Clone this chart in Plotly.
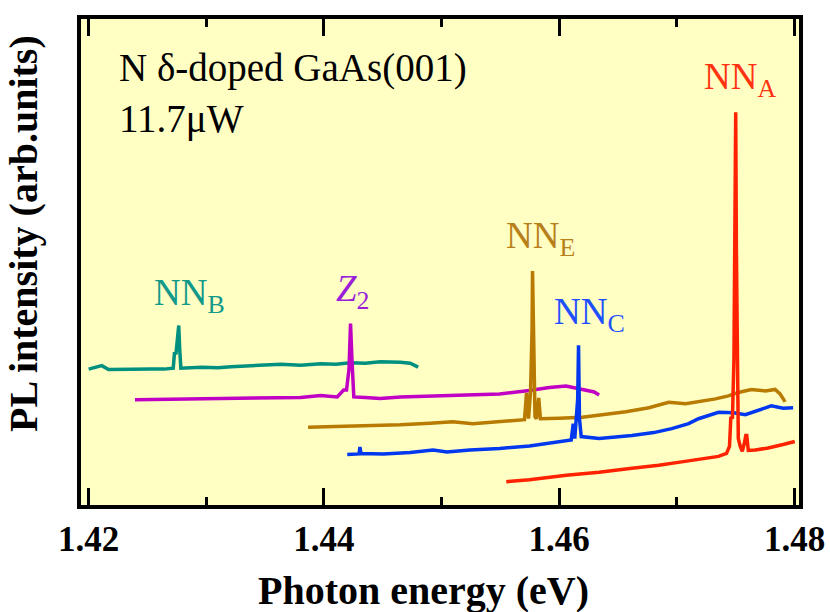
import plotly.graph_objects as go

# ---- data ----
nnb_x = [1.42000, 1.42060, 1.42112, 1.42169, 1.42260, 1.42366, 1.42535, 1.42640, 1.42719, 1.42730,
         1.42742, 1.42759, 1.42766, 1.42774, 1.42784, 1.42958, 1.43100, 1.43211, 1.43340, 1.43465,
         1.43634, 1.43803, 1.43972, 1.44100, 1.44226, 1.44350, 1.44479, 1.44648, 1.44733, 1.44801]
nnb_y = [1.370, 1.385, 1.405, 1.365, 1.370, 1.368, 1.372, 1.370, 1.380, 1.540,
         1.520, 1.770, 1.810, 1.570, 1.380, 1.390, 1.385, 1.395, 1.400, 1.410,
         1.420, 1.410, 1.425, 1.420, 1.435, 1.430, 1.445, 1.440, 1.430, 1.390]

z2_x = [1.42394, 1.42550, 1.42704, 1.42958, 1.43120, 1.43296, 1.43550, 1.43803, 1.43972, 1.44113,
        1.44167, 1.44192, 1.44213, 1.44226, 1.44238, 1.44254, 1.44350, 1.44479, 1.44650, 1.44817,
        1.45000, 1.45240, 1.45493, 1.45747, 1.45916, 1.46058, 1.46195, 1.46297, 1.46339]
z2_y = [1.060, 1.062, 1.065, 1.070, 1.068, 1.075, 1.080, 1.085, 1.105, 1.090,
        1.160, 1.160, 1.370, 1.830, 1.470, 1.090, 1.085, 1.075, 1.090, 1.095,
        1.100, 1.110, 1.120, 1.155, 1.185, 1.200, 1.170, 1.140, 1.110]

nne_x = [1.43865, 1.44057, 1.44226, 1.44479, 1.44648, 1.44902, 1.45096, 1.45265, 1.45494, 1.45705,
         1.45722, 1.45739, 1.45756, 1.45769, 1.45773, 1.45781, 1.45794, 1.45806, 1.45826, 1.45840,
         1.45888, 1.46001, 1.46195, 1.46381, 1.46567, 1.46762, 1.46931, 1.47074, 1.47184, 1.47328,
         1.47438, 1.47522, 1.47632, 1.47751, 1.47835, 1.47877, 1.47920]
nne_y = [0.785, 0.790, 0.795, 0.805, 0.810, 0.825, 0.840, 0.820, 0.845, 0.860,
         1.130, 0.870, 1.140, 1.770, 2.360, 1.670, 0.890, 0.870, 1.080, 0.870,
         0.870, 0.875, 0.885, 0.910, 0.940, 0.980, 1.035, 1.020, 1.040, 1.070,
         1.100, 1.135, 1.165, 1.150, 1.165, 1.120, 1.040]

nnc_x = [1.44198, 1.44268, 1.44298, 1.44306, 1.44315, 1.44505, 1.44733, 1.44927, 1.45046, 1.45240,
         1.45494, 1.45747, 1.46001, 1.46102, 1.46119, 1.46132, 1.46157, 1.46164, 1.46172, 1.46187,
         1.46339, 1.46618, 1.46804, 1.46956, 1.47100, 1.47184, 1.47354, 1.47481, 1.47582, 1.47717,
         1.47802, 1.47903, 1.47988]
nnc_y = [0.510, 0.515, 0.515, 0.585, 0.520, 0.515, 0.530, 0.555, 0.535, 0.555,
         0.570, 0.595, 0.640, 0.655, 0.820, 0.670, 1.070, 1.610, 0.870, 0.690,
         0.670, 0.700, 0.730, 0.770, 0.820, 0.870, 0.935, 0.930, 0.910, 0.970,
         1.000, 0.975, 0.980]

nna_x = [1.45550, 1.45747, 1.46060, 1.46339, 1.46618, 1.46846, 1.47040, 1.47227, 1.47354, 1.47422,
         1.47447, 1.47459, 1.47472, 1.47485, 1.47493, 1.47500, 1.47506, 1.47514, 1.47522, 1.47539,
         1.47556, 1.47573, 1.47586, 1.47594, 1.47607, 1.47666, 1.47776, 1.47903, 1.48002]
nna_y = [0.235, 0.255, 0.300, 0.330, 0.370, 0.400, 0.435, 0.465, 0.490, 0.520,
         0.590, 0.890, 0.870, 1.470, 2.570, 3.960, 2.570, 1.470, 0.670, 0.590,
         0.540, 0.620, 0.700, 0.700, 0.550, 0.555, 0.575, 0.610, 0.640]

xtick_vals = [1.42, 1.44, 1.46, 1.48]
xtick_text = ["1.42", "1.44", "1.46", "1.48"]
xminor_vals = [1.43, 1.45, 1.47]

series = [
    ("NN<sub>B</sub>", nnb_x, nnb_y, "#009080"),
    ("Z<sub>2</sub>", z2_x, z2_y, "#C000C4"),
    ("NN<sub>E</sub>", nne_x, nne_y, "#B87A00"),
    ("NN<sub>C</sub>", nnc_x, nnc_y, "#0038F0"),
    ("NN<sub>A</sub>", nna_x, nna_y, "#FF2200"),
]

W, H = 830, 612
L, R, T, B = 81, 799, 19, 505


def xp(px):
    return (px - L) / (R - L)


def yp(py):
    return (B - py) / (B - T)


fig = go.Figure()
for name, xs, ys, col in series:
    fig.add_trace(go.Scatter(x=xs, y=ys, mode="lines", name=name,
                             line=dict(color=col, width=3.5), showlegend=False,
                             hoverinfo="skip"))

serif = "Liberation Serif"

labels = [
    ("NN<sub>B</sub>", 152, 270, "#12998A"),
    ("<i>Z</i><sub>2</sub>", 334, 266, "#9B1FD8"),
    ("NN<sub>E</sub>", 504, 213, "#B8801A"),
    ("NN<sub>C</sub>", 552, 289, "#1E50FF"),
    ("NN<sub>A</sub>", 702, 54, "#FF3311"),
]
for txt, px, py, col in labels:
    fig.add_annotation(text=txt, xref="paper", yref="paper", x=xp(px), y=yp(py),
                       xanchor="left", yanchor="top", showarrow=False,
                       font=dict(family=serif, size=37, color=col))

fig.add_annotation(text="N δ-doped GaAs(001)<br>11.7μW", xref="paper", yref="paper",
                   x=xp(117), y=yp(44), xanchor="left", yanchor="top", align="left",
                   showarrow=False, font=dict(family=serif, size=39, color="black"))

fig.add_annotation(text="<b>PL intensity (arb.units)</b>", xref="paper", yref="paper",
                   x=xp(23), y=yp(234), xanchor="center", yanchor="middle", textangle=-90,
                   showarrow=False, font=dict(family=serif, size=40, color="black"))

fig.add_annotation(text="<b>Photon energy (eV)</b>", xref="paper", yref="paper",
                   x=xp(423), y=yp(566), xanchor="center", yanchor="top",
                   showarrow=False, font=dict(family=serif, size=40, color="black"))

fig.update_layout(
    width=W, height=H,
    margin=dict(l=L, r=W - R, t=T, b=H - B, autoexpand=False),
    paper_bgcolor="white",
    plot_bgcolor="#FFFFC4",
    xaxis=dict(range=[1.41935, 1.48038], tickvals=xtick_vals, ticktext=xtick_text,
               ticks="inside", ticklen=17, tickwidth=3, tickcolor="black",
               showline=True, linewidth=4, linecolor="black", mirror="ticks",
               showgrid=False, zeroline=False, automargin=False,
               tickfont=dict(family=serif, size=35, color="black", weight="bold"),
               minor=dict(tickvals=xminor_vals, ticks="inside", ticklen=8, tickwidth=3,
                          tickcolor="black", showgrid=False)),
    yaxis=dict(range=[0, 4.9], showticklabels=False, ticks="",
               showline=True, linewidth=4, linecolor="black", mirror=True,
               showgrid=False, zeroline=False, automargin=False),
)

fig.write_html("out.html")
